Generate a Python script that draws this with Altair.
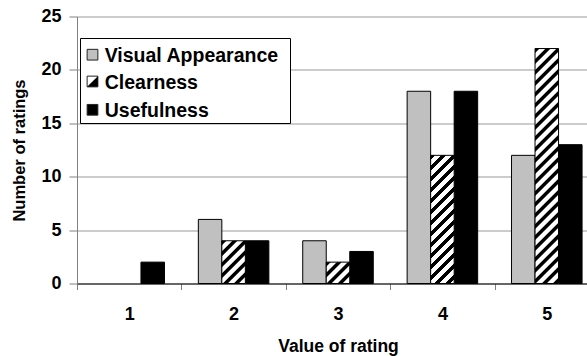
import altair as alt
import pandas as pd

# Ratings and the number of ratings per criterion
ratings = ["1", "2", "3", "4", "5"]
series = ["Visual Appearance", "Clearness", "Usefulness"]
visual_appearance = [0, 6, 4, 18, 12]
clearness = [0, 4, 2, 12, 22]
usefulness = [2, 4, 3, 18, 13]
y_ticks = [0, 5, 10, 15, 20, 25]

rows = []
for name, vals in zip(series, [visual_appearance, clearness, usefulness]):
    for r, v in zip(ratings, vals):
        rows.append({"rating": r, "series": name, "count": v})
df = pd.DataFrame(rows)
legend_df = pd.DataFrame({"series": series})

FONT = "Liberation Sans"
W, H = 510, 267           # plot area (the last category runs past the right edge)
X_SPAN = 522              # five category bands of ~104 px
Y_MAX = 25
OFFSET_PAD = 0.72
BAR_W = (X_SPAN / len(ratings)) / (len(series) + 2 * OFFSET_PAD)


def hatch(value, period=11.0, ink=0.45, soft=0.08):
    """Diagonal '/' stripes as a linear gradient across one bar's bounding box."""
    w = BAR_W
    h = value / Y_MAX * H
    span = w + h
    d = w * w + h * h
    stops = []
    k = 0
    while k * period < span:
        a = k * period
        pts = [
            (a, "black"),
            (a + ink * period - soft * period, "black"),
            (a + ink * period, "white"),
            (a + period - soft * period, "white"),
        ]
        for f, c in pts:
            t = min(max(f / span, 0.0), 1.0)
            stops.append({"offset": t, "color": c})
        k += 1
    stops.append({"offset": 1.0, "color": stops[-1]["color"]})
    return {
        "gradient": "linear",
        "x1": 0, "y1": 0,
        "x2": w * span / d, "y2": h * span / d,
        "stops": stops,
    }


x_enc = alt.X(
    "rating:N",
    scale=alt.Scale(domain=ratings, range=[0, X_SPAN], paddingInner=0, paddingOuter=0),
    axis=alt.Axis(
        title="Value of rating", labelAngle=0, tickBand="extent",
        tickSize=6, tickColor="#808080", domainColor="#000000",
        labelPadding=16, titlePadding=14, grid=False, titleFontSize=17.5,
    ),
)
xoff_enc = alt.XOffset(
    "series:N", scale=alt.Scale(domain=series, paddingInner=0, paddingOuter=OFFSET_PAD)
)
y_enc = alt.Y(
    "count:Q",
    scale=alt.Scale(domain=[0, Y_MAX]),
    axis=alt.Axis(
        title="Number of ratings", values=y_ticks, tickSize=8, labelPadding=8,
        tickColor="#808080", domainColor="#808080", gridColor="#999999",
        titlePadding=13, grid=True, titleFontSize=16.5,
    ),
)

base = alt.Chart(df).encode(x=x_enc, xOffset=xoff_enc, y=y_enc)

layers = [
    base.transform_filter(
        (alt.datum.series == series[0]) & (alt.datum["count"] > 0)
    ).mark_bar(fill="#C0C0C0", stroke="black", strokeWidth=1),
    base.transform_filter(
        (alt.datum.series == series[2]) & (alt.datum["count"] > 0)
    ).mark_bar(fill="black", stroke="black", strokeWidth=1),
]

for r, v in zip(ratings, clearness):
    if v <= 0:
        continue
    layers.append(
        base.transform_filter(
            (alt.datum.series == series[1]) & (alt.datum.rating == r)
        ).mark_bar(fill=hatch(v), stroke="black", strokeWidth=1)
    )

# Legend box with its three entries
legend = alt.Chart(legend_df)
layers.append(
    legend.transform_filter(alt.datum.series == series[0]).mark_rect(
        fill="white", stroke="black", strokeWidth=1
    ).encode(x=alt.value(3.5), x2=alt.value(213.5), y=alt.value(22), y2=alt.value(107))
)

entry_y = [38.2, 65.0, 93.3]
sym_fill = ["#C0C0C0", "white", "black"]
for name, cy, fill in zip(series, entry_y, sym_fill):
    sel = legend.transform_filter(alt.datum.series == name)
    layers.append(
        sel.mark_square(size=115, fill=fill, stroke="#222222", strokeWidth=1, opacity=1)
        .encode(x=alt.value(15.5), y=alt.value(cy))
    )
    if name == series[1]:
        layers.append(
            sel.mark_point(shape="M1,-1L1,1L-1,1Z", filled=True, fill="black",
                           size=115, strokeWidth=0, opacity=1)
            .encode(x=alt.value(15.5), y=alt.value(cy))
        )
    layers.append(
        sel.mark_text(align="left", baseline="alphabetic", font=FONT,
                      fontSize=19.5, fontWeight="bold", color="black")
        .encode(x=alt.value(27.7), y=alt.value(cy + 7), text="series:N")
    )

chart = (
    alt.layer(*layers)
    .properties(
        width=W, height=H,
        autosize=alt.AutoSizeParams(type="none"),
        padding={"left": 77, "top": 16.5, "right": 0, "bottom": 72.5},
        background="white",
    )
    .configure_view(stroke=None)
    .configure_axis(
        labelFont=FONT, titleFont=FONT, labelFontSize=18,
        labelFontWeight="bold", titleFontWeight="bold",
        labelColor="black", titleColor="black",
    )
)

chart.save("out.html", embed_options={"renderer": "svg", "actions": False})
